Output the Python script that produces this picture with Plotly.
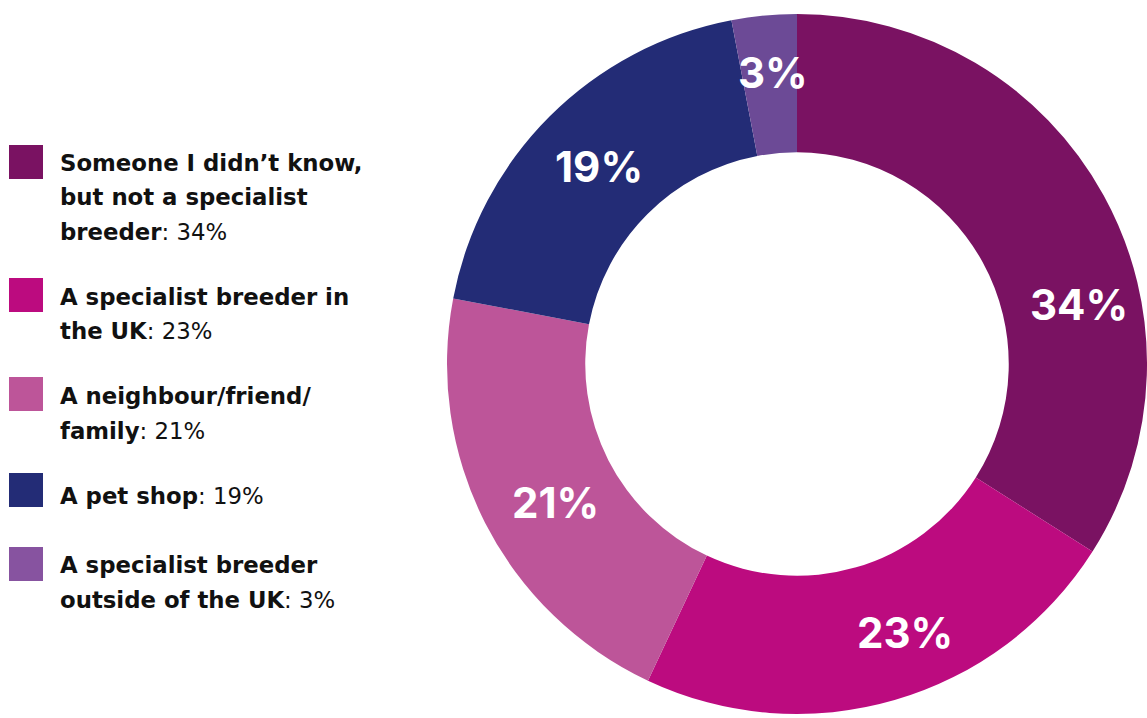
import math
import plotly.graph_objects as go

# ---- data ----
categories = [
    "Someone I didn’t know, but not a specialist breeder",
    "A specialist breeder in the UK",
    "A neighbour/friend/family",
    "A pet shop",
    "A specialist breeder outside of the UK",
]
values = [34, 23, 21, 19, 3]
legend_bold_lines = [
    ["Someone I didn’t know,", "but not a specialist", "breeder"],
    ["A specialist breeder in", "the UK"],
    ["A neighbour/friend/", "family"],
    ["A pet shop"],
    ["A specialist breeder", "outside of the UK"],
]
slice_colors = ["#7A1262", "#BC0B7F", "#BD5599", "#232C76", "#6C4A96"]
legend_colors = ["#7A1262", "#BC0B7F", "#BD5599", "#232C76", "#8753A0"]

# ---- layout / styling (not data) ----
W, H = 1147, 718
LABEL_FONT = "Inter"
LEGEND_FONT = "DejaVu Sans"
label_angle_shift = [16.9, -5.1, -2.7, -0.6, 0.0]   # degrees, label nudges
label_radius = [285, 289, 282, 281, 292]             # px from centre

fig = go.Figure()
fig.add_trace(go.Pie(
    labels=categories,
    values=values,
    sort=False,
    direction="clockwise",
    rotation=0,
    hole=0.605,
    marker=dict(colors=slice_colors, line=dict(width=0)),
    textinfo="none",
    hoverinfo="label+percent",
    domain=dict(x=[447 / W, 1.0], y=[0.0, 1 - 10 / H]),
    showlegend=False,
))

def px(x):
    return x / W

def py(y):
    return 1 - y / H

annotations = []
shapes = []

# slice labels, placed around the ring from the values
cx, cy = 800, 365
total = sum(values)
cum = 0
for i, v in enumerate(values):
    mid = (cum + v / 2) / total
    cum += v
    ang = mid * 2 * math.pi + math.radians(label_angle_shift[i])
    lx = cx + label_radius[i] * math.sin(ang)
    ly = cy - label_radius[i] * math.cos(ang) - 2
    annotations.append(dict(
        x=px(lx), y=py(ly), xref="paper", yref="paper",
        text=f"<b>{v}%</b>", showarrow=False,
        xanchor="center", yanchor="middle",
        font=dict(family=LABEL_FONT, size=42, color="white", weight=900),
    ))

# legend (custom, large squares and wrapped text)
first_line_y = [162.5, 296.5, 396, 496, 565]
square_y = [162, 295, 394, 490, 564]
line_gap = 34.5
for i, lines in enumerate(legend_bold_lines):
    shapes.append(dict(
        type="rect", xref="paper", yref="paper",
        x0=px(9), x1=px(43), y0=py(square_y[i] - 17), y1=py(square_y[i] + 17),
        fillcolor=legend_colors[i], line=dict(width=0),
    ))
    for j, ln in enumerate(lines):
        t = f"<b>{ln}</b>"
        if j == len(lines) - 1:
            t += f": {values[i]}%"
        annotations.append(dict(
            x=px(58), y=py(first_line_y[i] + j * line_gap),
            xref="paper", yref="paper", text=t, showarrow=False,
            xanchor="left", yanchor="middle",
            font=dict(family=LEGEND_FONT, size=22.8, color="#111111"),
        ))

fig.update_layout(
    width=W, height=H,
    margin=dict(l=0, r=0, t=0, b=0),
    paper_bgcolor="white", plot_bgcolor="white",
    annotations=annotations, shapes=shapes,
    showlegend=False,
)
fig.write_html("out.html")
